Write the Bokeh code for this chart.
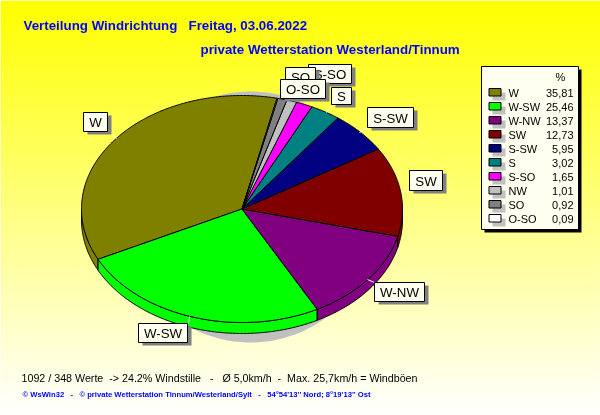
import numpy as np
from bokeh.plotting import figure
from bokeh.models import Range1d
from bokeh.core.properties import value
from bokeh.embed import file_html
from bokeh.resources import INLINE

# data
directions = ["W", "W-SW", "W-NW", "SW", "S-SW", "S", "S-SO", "NW", "SO", "O-SO"]
shares = [35.81, 25.46, 13.37, 12.73, 5.95, 3.02, 1.65, 1.01, 0.92, 0.09]
share_labels = ["35,81", "25,46", "13,37", "12,73", "5,95", "3,02", "1,65", "1,01", "0,92", "0,09"]
colours = ["#808000", "#00FF00", "#800080", "#800000", "#000080", "#008080", "#FF00FF", "#C0C0C0", "#808080", "#FFFFFF"]

title_1 = "Verteilung Windrichtung\u00a0\u00a0\u00a0Freitag, 03.06.2022"
title_2 = "private Wetterstation Westerland/Tinnum"
footer_1 = "1092 / 348 Werte\u00a0\u00a0-> 24.2% Windstille\u00a0\u00a0\u00a0-\u00a0\u00a0\u00a0\u00d8 5,0km/h\u00a0\u00a0-\u00a0\u00a0Max. 25,7km/h = Windb\u00f6en"
footer_2 = "\u00a9 WsWin32\u00a0\u00a0\u00a0-\u00a0\u00a0\u00a0\u00a9 private Wetterstation Tinnum/Westerland/Sylt\u00a0\u00a0\u00a0-\u00a0\u00a0\u00a054\u00b054'13'' Nord; 8\u00b019'13'' Ost"

# layout
W, H = 600, 415
CX, CY, RX, RY, DEPTH = 241.5, 208.5, 160.5, 113.5, 11
START = 77.4
FONT = value("Liberation Sans")

p = figure(width=W, height=H, output_backend="svg", toolbar_location=None,
           x_range=Range1d(0, W), y_range=Range1d(H, 0),
           x_axis_type=None, y_axis_type=None, min_border=0,
           outline_line_color=None, border_fill_color=None, background_fill_color=None,
           styles={"position": "fixed", "left": "0px", "top": "0px"})
p.grid.visible = False

# background gradient
ys = np.arange(0, H)
grad = ["#FFFF%02X" % int(round(255 * y / (H - 1))) for y in ys]
p.quad(left=0, right=W, top=ys, bottom=ys + 1.5, fill_color=grad, line_color=None)


def txt(x, y, s, size, color="black", style="normal", align="left"):
    p.text([x], [y], text=[s], text_font=FONT, text_font_size=size, text_color=color,
           text_font_style=style, text_align=align, text_baseline="middle")


def arc(a0, a1, dy=0.0):
    n = max(2, int(abs(a1 - a0) * 2) + 2)
    t = np.radians(np.linspace(a0, a1, n))
    return CX + RX * np.cos(t), CY - RY * np.sin(t) + dy


# pie shadow
t = np.radians(np.linspace(0, 360, 241))
p.patch(250 + 126 * np.cos(t), 216.5 + 125.5 * np.sin(t), fill_color="#C0C0C0", line_color=None)

# slices
total = sum(shares)
edges = START + np.concatenate([[0], np.cumsum(shares)]) * 360 / total
for i, c in enumerate(colours):
    a0, a1 = edges[i], edges[i + 1]
    for lo, hi in [(180, 360), (540, 720)]:
        s, e = max(a0, lo), min(a1, hi)
        if e > s:
            x, y = arc(s, e)
            xb, yb = arc(e, s, DEPTH)
            p.patch(np.r_[x, xb], np.r_[y, yb], fill_color=c, line_color="black", line_width=1)
for i, c in enumerate(colours):
    x, y = arc(edges[i], edges[i + 1])
    p.patch(np.r_[CX, x], np.r_[CY, y], fill_color=c, line_color="black", line_width=1)

# leader lines
leaders = [(112, 134, 116, 138), (189, 316, 188, 323), (367, 279, 374, 282),
           (368, 127, 359, 132), (331, 105, 326, 112), (410, 190, 402, 192)]
for x0, y0, x1, y1 in leaders:
    p.line([x0, x1], [y0, y1], line_color="white", line_width=1)

# slice labels, back to front
boxes = {"W": (83, 112, 107, 131), "W-SW": (138, 323, 187, 342), "W-NW": (374, 282, 424, 301),
         "SW": (409, 170, 442, 190), "S-SW": (367, 107, 413, 127), "S-SO": (308, 64, 351, 83),
         "S": (331, 87, 351, 104), "SO": (285, 67, 315, 86), "O-SO": (280, 79, 325, 98)}
for name, (x0, y0, x1, y1) in boxes.items():
    p.quad(left=x0 + 4, right=x1 + 4, top=y0 + 3, bottom=y1 + 3, fill_color="#808080", line_color=None)
    p.quad(left=x0, right=x1, top=y0, bottom=y1, fill_color="#FFFFF0", line_color="black", line_width=1)
    txt((x0 + x1) / 2, (y0 + y1) / 2 + 0.5, name, "13.3px", align="center")

# legend
p.quad(left=484, right=581, top=69, bottom=232, fill_color="black", line_color=None)
p.quad(left=481, right=578, top=66, bottom=229, fill_color="#FFFFF0", line_color="black", line_width=1)
txt(560, 76, "%", "11px", align="center")
for i, (name, lab, c) in enumerate(zip(directions, share_labels, colours)):
    yc = 92 + 14 * i
    p.quad(left=492, right=505, top=yc, bottom=yc + 8, fill_color="#C0C0C0", line_color=None)
    p.quad(left=488.5, right=500.5, top=yc - 4, bottom=yc + 3.5, fill_color=c, line_color="black", line_width=1)
    txt(508, yc, name, "11px")
    txt(573, yc, lab, "11px", align="right")

# titles
txt(23, 25, title_1, "13.33px", "#0000FF", "bold")
txt(200, 49, title_2, "13.33px", "#0000FF", "bold")
txt(21, 377, footer_1, "10.7px")
txt(22, 394, footer_2, "7.65px", "#0000FF", "bold")

open("out.html", "w").write(file_html(p, INLINE))
